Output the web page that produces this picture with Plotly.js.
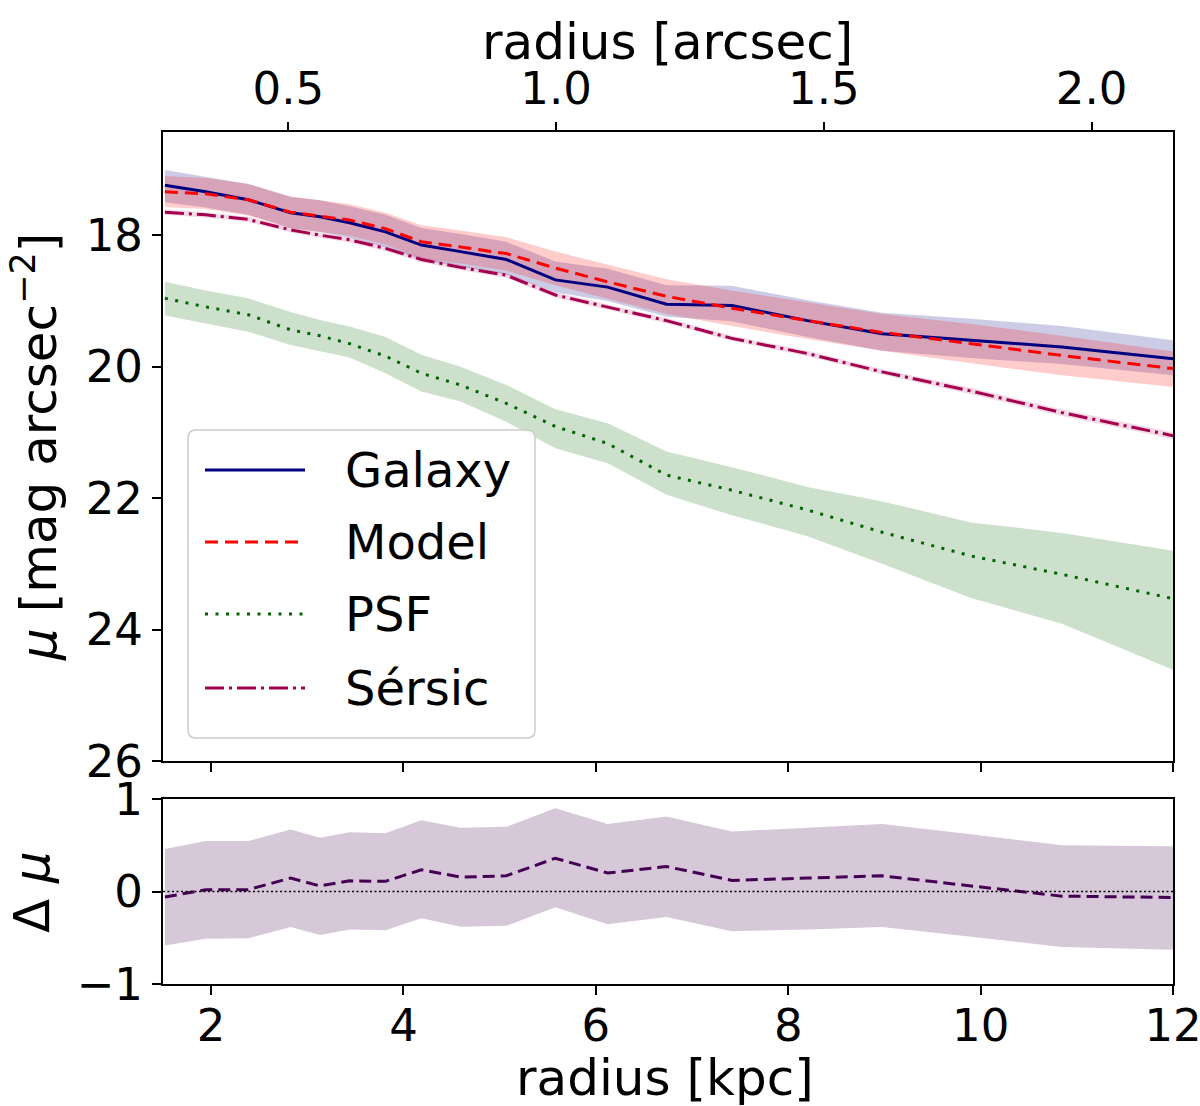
<!DOCTYPE html>
<html>
<head>
<meta charset="utf-8">
<script src="https://cdn.plot.ly/plotly-3.0.1.min.js"></script>
<style>html,body{margin:0;padding:0;background:#fff}#chart{width:1200px;height:1106px}</style>
</head>
<body>
<div id="chart"></div>
<script>
// ---- data (radius in kpc, surface brightness in mag arcsec^-2) ----
const radiusKpc = [1.52,1.944,2.386,2.827,3.133,3.439,3.813,4.186,4.594,5.07,5.579,6.123,6.734,7.414,8.2,8.976,9.9,10.845,12.0];

const galaxy   = [17.24,17.34,17.46,17.66,17.72,17.81,17.95,18.15,18.25,18.37,18.68,18.79,19.05,19.07,19.30,19.50,19.60,19.70,19.88];
const galaxyUp = [17.01,17.11,17.22,17.42,17.47,17.56,17.69,17.89,17.98,18.10,18.40,18.51,18.76,18.77,18.99,19.18,19.27,19.38,19.60];
const galaxyLo = [17.50,17.58,17.69,17.89,17.95,18.04,18.18,18.38,18.48,18.60,18.87,19.00,19.24,19.31,19.55,19.76,19.87,19.96,20.13];

const model   = [17.34,17.37,17.46,17.65,17.71,17.77,17.90,18.10,18.18,18.28,18.50,18.71,18.93,19.11,19.30,19.48,19.65,19.83,20.03];
const modelUp = [17.10,17.13,17.22,17.41,17.47,17.53,17.66,17.85,17.93,18.03,18.25,18.45,18.67,18.84,19.02,19.20,19.35,19.53,19.77];
const modelLo = [17.57,17.60,17.70,17.89,17.95,18.01,18.14,18.35,18.43,18.54,18.76,18.97,19.20,19.38,19.58,19.76,19.95,20.13,20.31];

const psf   = [18.96,19.09,19.21,19.44,19.53,19.65,19.84,20.10,20.28,20.56,20.91,21.17,21.65,21.88,22.18,22.52,22.88,23.16,23.53];
const psfUp = [18.71,18.84,18.96,19.17,19.29,19.39,19.55,19.82,20.00,20.28,20.65,20.86,21.29,21.53,21.83,22.05,22.37,22.53,22.80];
const psfLo = [19.22,19.34,19.47,19.67,19.77,19.86,20.10,20.38,20.53,20.84,21.24,21.47,21.95,22.26,22.58,23.00,23.52,23.91,24.61];

const sersic   = [17.65,17.69,17.76,17.92,18.00,18.07,18.20,18.37,18.49,18.61,18.91,19.09,19.30,19.57,19.80,20.08,20.37,20.70,21.05];
const sersicUp = [17.61,17.65,17.72,17.88,17.96,18.03,18.16,18.33,18.45,18.57,18.87,19.05,19.26,19.53,19.76,20.04,20.32,20.65,21.00];
const sersicLo = [17.69,17.73,17.80,17.96,18.04,18.11,18.24,18.41,18.53,18.65,18.95,19.13,19.34,19.61,19.84,20.12,20.42,20.75,21.10];

const resid   = [-0.06,0.02,0.02,0.145,0.06,0.115,0.11,0.235,0.155,0.17,0.36,0.20,0.27,0.12,0.145,0.17,0.06,-0.05,-0.065];
const residUp = [0.46,0.545,0.545,0.67,0.58,0.64,0.63,0.77,0.69,0.70,0.90,0.73,0.81,0.65,0.69,0.73,0.62,0.50,0.49];
const residLo = [-0.585,-0.51,-0.505,-0.385,-0.47,-0.41,-0.42,-0.29,-0.38,-0.37,-0.17,-0.355,-0.275,-0.43,-0.41,-0.385,-0.49,-0.60,-0.63];

const muTicks = [18,20,22,24,26];
const kpcTicks = [2,4,6,8,10,12];
const arcsecTicks = [0.5,1.0,1.5,2.0];
const arcsecTickText = ['0.5','1.0','1.5','2.0'];
const legendNames = ['Galaxy','Model','PSF','Sérsic'];
const titles = {
  top: 'radius [arcsec]',
  bottom: 'radius [kpc]',
  mu: '<i>μ</i> [mag arcsec<sup>−2</sup>]',
  dmu: 'Δ <i>μ</i>'
};

// ---- styling ----
const FONT = 'DejaVu Sans, Liberation Sans, sans-serif';
const C_GAL = '#000080', C_MOD = '#ff0000', C_PSF = '#006400', C_SER = '#a5004f', C_RES = '#440154';

function band(x, up, lo, fill, xa, ya){
  return [
    {x:x, y:up, xaxis:xa, yaxis:ya, mode:'lines', line:{width:0, color:fill}, showlegend:false, hoverinfo:'skip'},
    {x:x, y:lo, xaxis:xa, yaxis:ya, mode:'lines', line:{width:0, color:fill}, fill:'tonexty', fillcolor:fill, showlegend:false, hoverinfo:'skip'}
  ];
}
function line(x, y, color, dash, xa, ya, w){
  return {x:x, y:y, xaxis:xa, yaxis:ya, mode:'lines', line:{color:color, width:w||3, dash:dash}, showlegend:false};
}

const traces = [].concat(
  band(radiusKpc, galaxyUp, galaxyLo, 'rgba(0,0,128,0.2)', 'x', 'y'),
  band(radiusKpc, modelUp, modelLo, 'rgba(255,0,0,0.2)', 'x', 'y'),
  band(radiusKpc, psfUp, psfLo, 'rgba(0,100,0,0.2)', 'x', 'y'),
  band(radiusKpc, sersicUp, sersicLo, 'rgba(165,0,79,0.15)', 'x', 'y'),
  [
    line(radiusKpc, galaxy, C_GAL, 'solid', 'x', 'y'),
    line(radiusKpc, model, C_MOD, '13px,7px', 'x', 'y'),
    line(radiusKpc, psf, C_PSF, '3px,7.5px', 'x', 'y'),
    line(radiusKpc, sersic, C_SER, '19px,5px,3px,5px', 'x', 'y')
  ],
  band(radiusKpc, residUp, residLo, 'rgba(68,1,84,0.22)', 'x2', 'y2'),
  [ line(radiusKpc, resid, C_RES, '12px,6px', 'x2', 'y2', 3) ],
  // invisible trace to activate the top (arcsec) axis
  [{x:[arcsecTicks[0]], y:[muTicks[0]], xaxis:'x3', yaxis:'y', mode:'markers', marker:{opacity:0}, showlegend:false, hoverinfo:'skip'}]
);

// pixel -> paper helpers (plot area: x 163..1173, y 132..984)
const L=163, R=1173, T=132, B=984;
const px = v => (v-L)/(R-L);
const py = v => (B-v)/(B-T);

const tickFont = {family:FONT, size:45, color:'#000'};
const titleFont = {family:FONT, size:50, color:'#000'};

const shapes = [];
const annotations = [];

// zero reference line in residual panel
shapes.push({type:'line', xref:'x2 domain', x0:0, x1:1, yref:'y2', y0:0, y1:0, line:{color:'#000', width:1.5, dash:'2px,2.5px'}, layer:'above'});

// axis titles as positioned text
annotations.push({xref:'paper', yref:'paper', x:px(667), y:py(42), xanchor:'center', yanchor:'middle', text:titles.top, showarrow:false, font:titleFont});
annotations.push({xref:'paper', yref:'paper', x:px(665), y:py(1078), xanchor:'center', yanchor:'middle', text:titles.bottom, showarrow:false, font:titleFont});
annotations.push({xref:'paper', yref:'paper', x:px(36), y:py(447), xanchor:'center', yanchor:'middle', textangle:-90, text:titles.mu, showarrow:false, font:titleFont});
annotations.push({xref:'paper', yref:'paper', x:px(32), y:py(892), xanchor:'center', yanchor:'middle', textangle:-90, text:titles.dmu, showarrow:false, font:titleFont});

// custom legend box (rounded)
(function(){
  const x0=px(188), x1=px(535), y0=py(738), y1=py(430);
  const rx=8/(R-L), ry=8/(B-T);
  const p = `M${x0+rx},${y1} L${x1-rx},${y1} Q${x1},${y1} ${x1},${y1-ry} L${x1},${y0+ry} Q${x1},${y0} ${x1-rx},${y0} L${x0+rx},${y0} Q${x0},${y0} ${x0},${y0+ry} L${x0},${y1-ry} Q${x0},${y1} ${x0+rx},${y1} Z`;
  shapes.push({type:'path', xref:'paper', yref:'paper', path:p, fillcolor:'rgba(255,255,255,0.8)', line:{color:'#cccccc', width:1.5}, layer:'above'});
})();
const legColors = [C_GAL, C_MOD, C_PSF, C_SER];
const legDash = ['solid','13px,7px','3px,7.5px','19px,5px,3px,5px'];
const legY = [470, 542, 614, 688];
legendNames.forEach((n,i)=>{
  shapes.push({type:'line', xref:'paper', yref:'paper', x0:px(205), x1:px(305), y0:py(legY[i]), y1:py(legY[i]), line:{color:legColors[i], width:3, dash:legDash[i]}, layer:'above'});
  annotations.push({xref:'paper', yref:'paper', x:px(343), y:py(legY[i]), xanchor:'left', yanchor:'middle', text:n, showarrow:false, font:{family:FONT, size:48, color:'#000'}});
});

const axBase = {ticks:'outside', ticklen:9, tickwidth:2, tickcolor:'#000', showgrid:false, zeroline:false, ticklabeloverflow:'allow'};

const layout = {
  width:1200, height:1106,
  margin:{l:L, r:1200-R, t:T, b:1106-B, pad:0},
  paper_bgcolor:'#fff', plot_bgcolor:'#fff',
  showlegend:false,
  font:{family:FONT, color:'#000'},
  xaxis:Object.assign({}, axBase, {domain:[0,1], anchor:'y', range:[1.5,12], tickvals:kpcTicks, showticklabels:false,
         showline:true, linecolor:'#000', linewidth:2, mirror:true}),
  xaxis3:Object.assign({}, axBase, {overlaying:'x', side:'top', anchor:'y', range:[0.266,2.152], tickvals:arcsecTicks, ticktext:arcsecTickText,
          showline:false, tickfont:tickFont}),
  yaxis:Object.assign({}, axBase, {domain:[(B-761)/(B-T),1], anchor:'x', range:[26,16.43], tickvals:muTicks,
         showline:true, linecolor:'#000', linewidth:2, mirror:true, tickfont:tickFont}),
  xaxis2:Object.assign({}, axBase, {domain:[0,1], anchor:'y2', range:[1.5,12], tickvals:kpcTicks,
          showline:true, linecolor:'#000', linewidth:2, mirror:true, tickfont:tickFont, ticklabelstandoff:-8}),
  yaxis2:Object.assign({}, axBase, {domain:[0,(B-799)/(B-T)], anchor:'x2', range:[-1,1], tickvals:[-1,0,1], ticktext:['−1','0','1'],
          showline:true, linecolor:'#000', linewidth:2, mirror:true, tickfont:tickFont}),
  shapes:shapes,
  annotations:annotations
};

Plotly.newPlot('chart', traces, layout, {staticPlot:true, displayModeBar:false});
</script>
</body>
</html>
